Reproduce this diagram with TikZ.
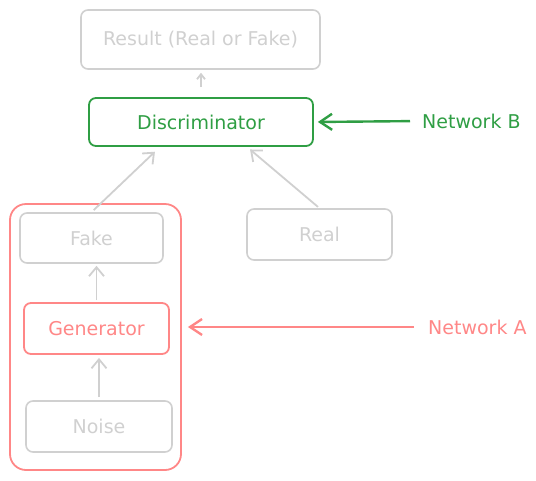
\documentclass[tikz,border=0pt]{standalone}
\usepackage{fontspec}
\setmainfont{DejaVu Sans}
\usetikzlibrary{arrows.meta}
\definecolor{sketchgray}{RGB}{208,208,208}
\definecolor{netgreen}{RGB}{47,158,68}
\definecolor{netred}{RGB}{255,135,135}

\begin{document}
\begin{tikzpicture}[x=1pt,y=-1pt,
  box/.style={draw=sketchgray, line width=1.6pt, rounded corners=7pt, text=sketchgray,
    font=\fontsize{19}{21}\selectfont, inner sep=0pt},
  flow/.style={draw=sketchgray, line width=1.8pt, -{Straight Barb[length=9pt,width=15pt]}},
  netlabel/.style={font=\fontsize{19}{21}\selectfont, anchor=west, inner sep=0pt}]
\useasboundingbox (0,0) rectangle (536,480);

% generator group
\node[draw=netred, line width=1.8pt, rounded corners=16pt, minimum width=171pt, minimum height=266pt] (group) at (95.5,337) {};

\node[box, minimum width=239pt, minimum height=59pt] (result) at (200.5,39.5) {Result (Real or Fake)};
\node[box, draw=netgreen, text=netgreen, line width=1.8pt, minimum width=224pt, minimum height=48pt] (disc) at (201,122) {Discriminator};
\node[box, minimum width=143pt, minimum height=50pt] (fake) at (91.5,238) {Fake};
\node[box, draw=netred, text=netred, line width=1.8pt, minimum width=145pt, minimum height=51pt] (gen) at (96.5,328.5) {Generator};
\node[box, minimum width=146pt, minimum height=51pt] (noise) at (99,426.5) {Noise};
\node[box, minimum width=145pt, minimum height=51pt] (real) at (319.5,234.5) {Real};

\draw[flow, -{Straight Barb[length=5pt,width=8pt]}, shorten <=10pt, shorten >=3pt] (disc.north) -- (disc.north |- result.south);
\draw[flow, shorten <=3pt, shorten >=7pt] (fake.north) -- ([xshift=-41pt]disc.south);
\draw[flow, shorten <=2pt, shorten >=4pt] (real.north) -- ([xshift=46pt]disc.south);
\draw[flow, shorten <=2pt, shorten >=2pt] (gen.north) -- (gen.north |- fake.south);
\draw[flow, shorten <=3pt, shorten >=3pt] (noise.north) -- (noise.north |- gen.south);

% network labels
\node[netlabel, text=netgreen] (netb) at (422,121) {Network B};
\node[netlabel, text=netred] (neta) at (428,327) {Network A};
\draw[netgreen, line width=2.4pt, -{Straight Barb[length=12pt,width=16pt]}, shorten <=12pt, shorten >=4pt] (netb.west) -- (disc.east);
\draw[netred, line width=2.4pt, -{Straight Barb[length=12pt,width=16pt]}, shorten <=14pt, shorten >=6pt] (neta.west) -- (neta.west -| group.east);
\end{tikzpicture}
\end{document}
